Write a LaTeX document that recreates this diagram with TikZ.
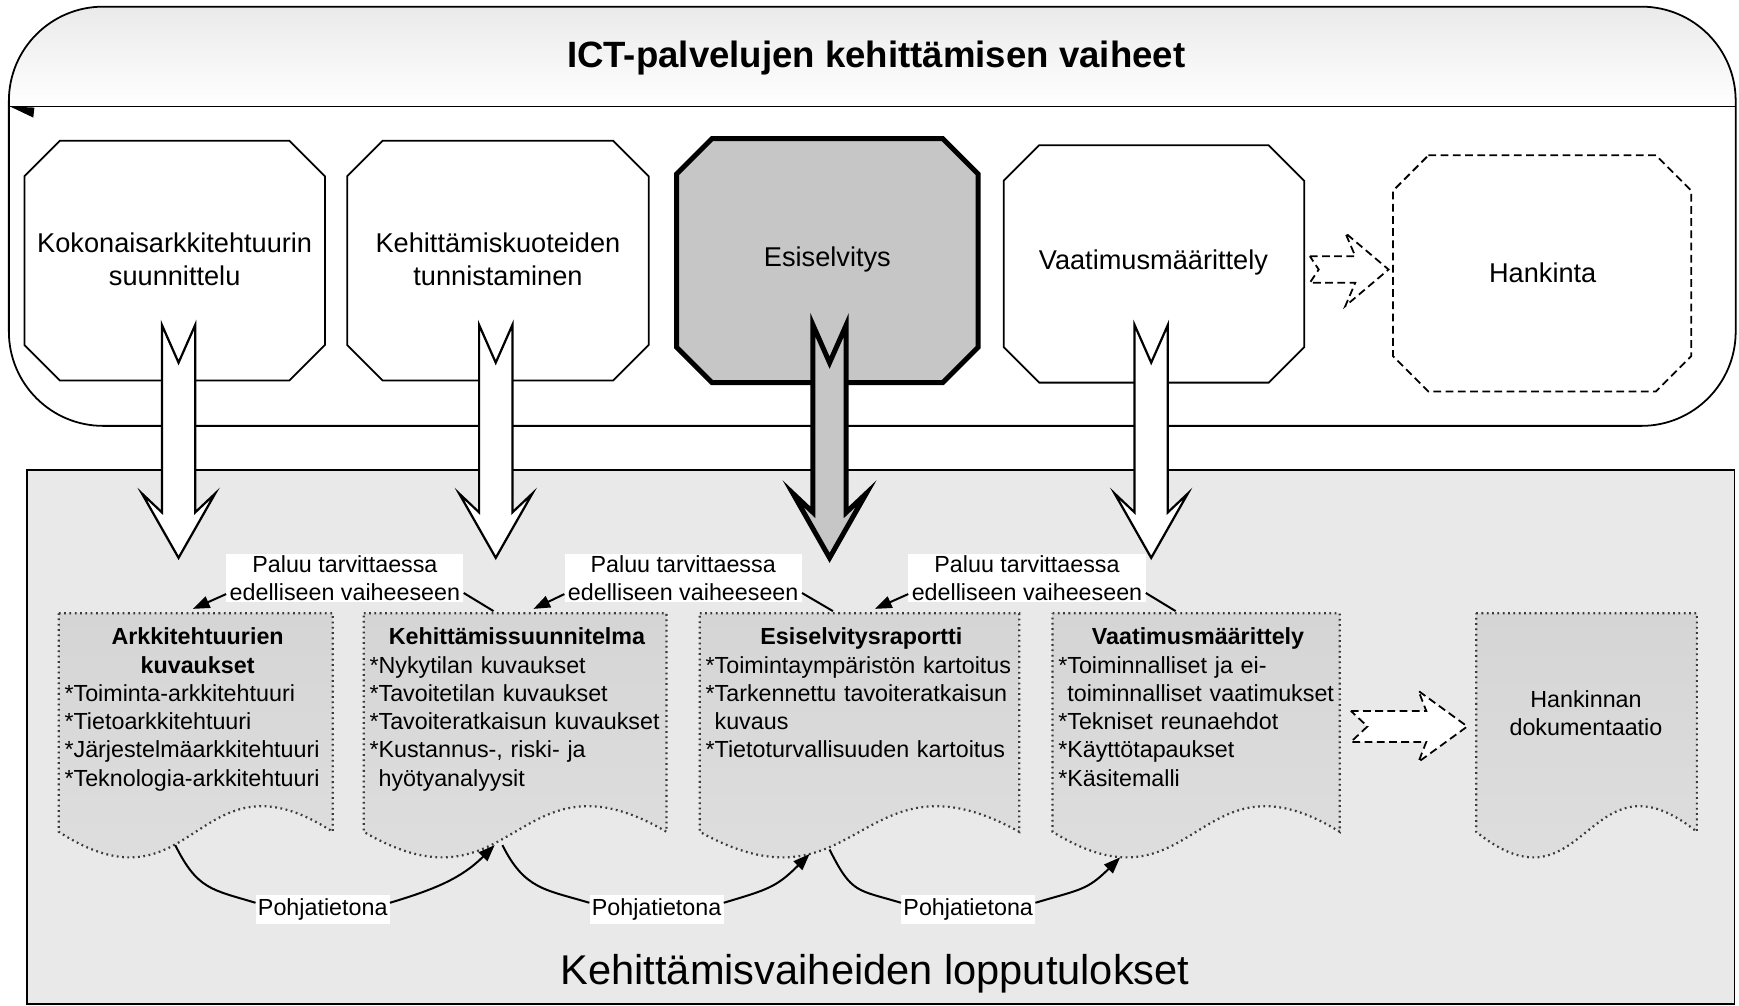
\documentclass[tikz,border=0pt]{standalone}
\usepackage{fontspec}
\setmainfont{Liberation Sans}
\usetikzlibrary{arrows.meta}
\definecolor{areagray}{HTML}{E9E9E9}
\definecolor{docgrayA}{HTML}{D5D5D5}
\definecolor{docgrayB}{HTML}{E0E0E0}
\definecolor{esigray}{HTML}{C6C6C6}
\definecolor{bandgray}{HTML}{EAEAEA}
\definecolor{dotcol}{HTML}{3A3A3A}

\newcommand\octo[6]{\path[#1] ({#2+#6},#3) -- ({#4-#6},#3) -- (#4,{#3+#6}) -- (#4,{#5-#6}) -- ({#4-#6},#5) -- ({#2+#6},#5) -- (#2,{#5-#6}) -- (#2,{#3+#6}) -- cycle;}
\newcommand\docpath[5]{\pgfmathsetmacro\docmid{(#2+#3)/2}\path[docshape] (#2,#4) -- (#3,#4) -- (#3,#5) .. controls (\docmid,{#5-80}) and (\docmid,{#5+80}) .. (#2,#5) -- cycle; \coordinate (#1) at (\docmid,#4);}
\newcommand\bigarrow[2]{\path[#2] ({#1-15},293) -- (#1,327) -- ({#1+15},293) -- ({#1+15},462) -- ({#1+33},445) -- (#1,503) -- ({#1-33},445) -- ({#1-15},462) -- cycle;}

\begin{document}
\begin{tikzpicture}[x=1pt,y=-1pt,line join=miter,
  phase/.style={draw=black,line width=1.6pt,fill=white},
  phasebold/.style={draw=black,line width=4.5pt,fill=esigray},
  phasedash/.style={draw=black,line width=1.6pt,dash pattern=on 7pt off 4pt,fill=white},
  phasetext/.style={font=\fontsize{24.5}{30}\selectfont,align=center,inner sep=0pt},
  hollowdash/.style={draw=black,line width=1.6pt,dash pattern=on 7pt off 4pt,fill=white},
  bigarr/.style={draw=black,line width=2pt,fill=white},
  bigarrbold/.style={draw=black,line width=4.5pt,fill=esigray},
  docshape/.style={draw=dotcol,line width=2pt,dash pattern=on 1.6pt off 3.2pt,top color=docgrayA,bottom color=docgrayB},
  doctext/.style={font=\fontsize{21}{25.5}\selectfont,anchor=north west,inner sep=0pt},
  paluu/.style={fill=white,font=\fontsize{21}{25.5}\selectfont,align=center,inner xsep=3pt,inner ysep=1pt},
  pohja/.style={fill=white,font=\fontsize{21}{25}\selectfont,inner xsep=2pt,inner ysep=3pt},
  conn/.style={line width=1.8pt},
  endtip/.style={-{Triangle[length=15pt,width=11pt]}}
]
\useasboundingbox (0,0) rectangle (1568,907);

% ---- upper container
\begin{scope}
  \clip[rounded corners=85pt] (8,6) rectangle (1565,384);
  \fill[white] (8,6) rectangle (1565,384);
  \shade[top color=bandgray,bottom color=white] (8,6) rectangle (1565,96);
\end{scope}
\draw[line width=1.6pt,rounded corners=85pt] (8,6) rectangle (1565,384);
\draw[line width=1.6pt] (8,96) -- (1565,96);
\fill (9,96) -- (31,97) -- (30,106) -- cycle;
\node[font=\fontsize{33}{40}\selectfont\bfseries] (title) at (790,52) {ICT-palvelujen kehittämisen vaiheet};

% ---- lower area
\draw[line width=1.6pt,fill=areagray] (24,424) rectangle (1564,905);
\node[font=\fontsize{37.5}{45}\selectfont] (bottomtitle) at (789,878) {Kehittämisvaiheiden lopputulokset};

% ---- phase boxes
\octo{phase}{22}{127}{293}{343}{32}
\node[phasetext] (b1) at (157.5,234) {Kokonaisarkkitehtuurin\\suunnittelu};
\octo{phase}{313}{127}{585}{343}{32}
\node[phasetext] (b2) at (449,234) {Kehittämiskuoteiden\\tunnistaminen};
\octo{phasebold}{610}{125}{882}{345}{32}
\node[phasetext] (b3) at (746,234) {Esiselvitys};
\octo{phase}{905}{131}{1176}{345}{32}
\node[phasetext] (b4) at (1040,237) {Vaatimusmäärittely};
\octo{phasedash}{1256}{140}{1525}{353}{32}
\node[phasetext] (b5) at (1391,246) {Hankinta};

\path[hollowdash] (1181,231) -- (1222,231) -- (1213,210) -- (1252,243) -- (1213,276) -- (1222,255) -- (1181,255) -- (1189,243) -- cycle;

% ---- documents
\docpath{d1top}{53}{300}{553}{750}
\docpath{d2top}{328}{601}{553}{750}
\docpath{d3top}{631}{919}{553}{750}
\docpath{d4top}{949}{1208}{553}{750}
\docpath{d5top}{1331}{1530}{553}{750}

\node[doctext,text width=240pt] (d1) at (58,566) {{\centering\textbf{Arkkitehtuurien\\kuvaukset}\par}\raggedright
*Toiminta-arkkitehtuuri\\{}*Tietoarkkitehtuuri\\{}*Järjestelmäarkkitehtuuri\\{}*Teknologia-arkkitehtuuri};
\node[doctext,text width=266pt] (d2) at (333,566) {{\centering\textbf{Kehittämissuunnitelma}\par}\raggedright
*Nykytilan kuvaukset\\{}*Tavoitetilan kuvaukset\\{}*Tavoiteratkaisun kuvaukset\\{}*Kustannus-, riski- ja\\{}\phantom{*}hyötyanalyysit};
\node[doctext,text width=281pt] (d3) at (636,566) {{\centering\textbf{Esiselvitysraportti}\par}\raggedright
*Toimintaympäristön kartoitus\\{}*Tarkennettu tavoiteratkaisun\\{}\phantom{*}kuvaus\\{}*Tietoturvallisuuden kartoitus};
\node[doctext,text width=252pt] (d4) at (954,566) {{\centering\textbf{Vaatimusmäärittely}\par}\raggedright
*Toiminnalliset ja ei-\\{}\phantom{*}toiminnalliset vaatimukset\\{}*Tekniset reunaehdot\\{}*Käyttötapaukset\\{}*Käsitemalli};
\node[font=\fontsize{21}{25.5}\selectfont,align=center] (d5) at (1430,643) {Hankinnan\\dokumentaatio};

\path[hollowdash] (1218,641) -- (1286,641) -- (1279,623) -- (1323,655) -- (1279,687) -- (1286,669) -- (1218,669) -- (1233,655) -- cycle;

% ---- big arrows
\bigarrow{161}{bigarr}
\bigarrow{447}{bigarr}
\bigarrow{748}{bigarrbold}
\bigarrow{1038}{bigarr}

% ---- return labels
\node[paluu] (p1) at (311,521) {Paluu tarvittaessa\\edelliseen vaiheeseen};
\node[paluu] (p2) at (616,521) {Paluu tarvittaessa\\edelliseen vaiheeseen};
\node[paluu] (p3) at (926,521) {Paluu tarvittaessa\\edelliseen vaiheeseen};
\coordinate (r1in) at (174,549);
\coordinate (r2out) at (445,551);
\coordinate (r2in) at (481,549);
\coordinate (r3out) at (751,551);
\coordinate (r3in) at (789,549);
\coordinate (r4out) at (1060,551);
\draw[conn] (r2out) -- ([yshift=8pt]p1.south east);
\draw[conn,endtip] ([yshift=7pt]p1.south west) -- (r1in);
\draw[conn] (r3out) -- ([yshift=8pt]p2.south east);
\draw[conn,endtip] ([yshift=7pt]p2.south west) -- (r2in);
\draw[conn] (r4out) -- ([yshift=8pt]p3.south east);
\draw[conn,endtip] ([yshift=7pt]p3.south west) -- (r3in);

% ---- basis arrows
\node[pohja] (q1) at (291,820) {Pohjatietona};
\node[pohja] (q2) at (592,820) {Pohjatietona};
\node[pohja] (q3) at (873,820) {Pohjatietona};
\coordinate (s1) at (158,762);
\coordinate (e1) at (446,762);
\coordinate (s2) at (453,762);
\coordinate (e2) at (730,770);
\coordinate (s3) at (748,766);
\coordinate (e3) at (1010,773);
\draw[conn] (s1) .. controls +(20,40) and +(-40,-12) .. ([yshift=6pt]q1.west);
\draw[conn,endtip] ([yshift=6pt]q1.east) .. controls +(40,-12) and +(-30,30) .. (e1);
\draw[conn] (s2) .. controls +(20,40) and +(-40,-12) .. ([yshift=6pt]q2.west);
\draw[conn,endtip] ([yshift=6pt]q2.east) .. controls +(40,-12) and +(-30,30) .. (e2);
\draw[conn] (s3) .. controls +(20,40) and +(-40,-12) .. ([yshift=6pt]q3.west);
\draw[conn,endtip] ([yshift=6pt]q3.east) .. controls +(40,-12) and +(-30,30) .. (e3);
\end{tikzpicture}
\end{document}
